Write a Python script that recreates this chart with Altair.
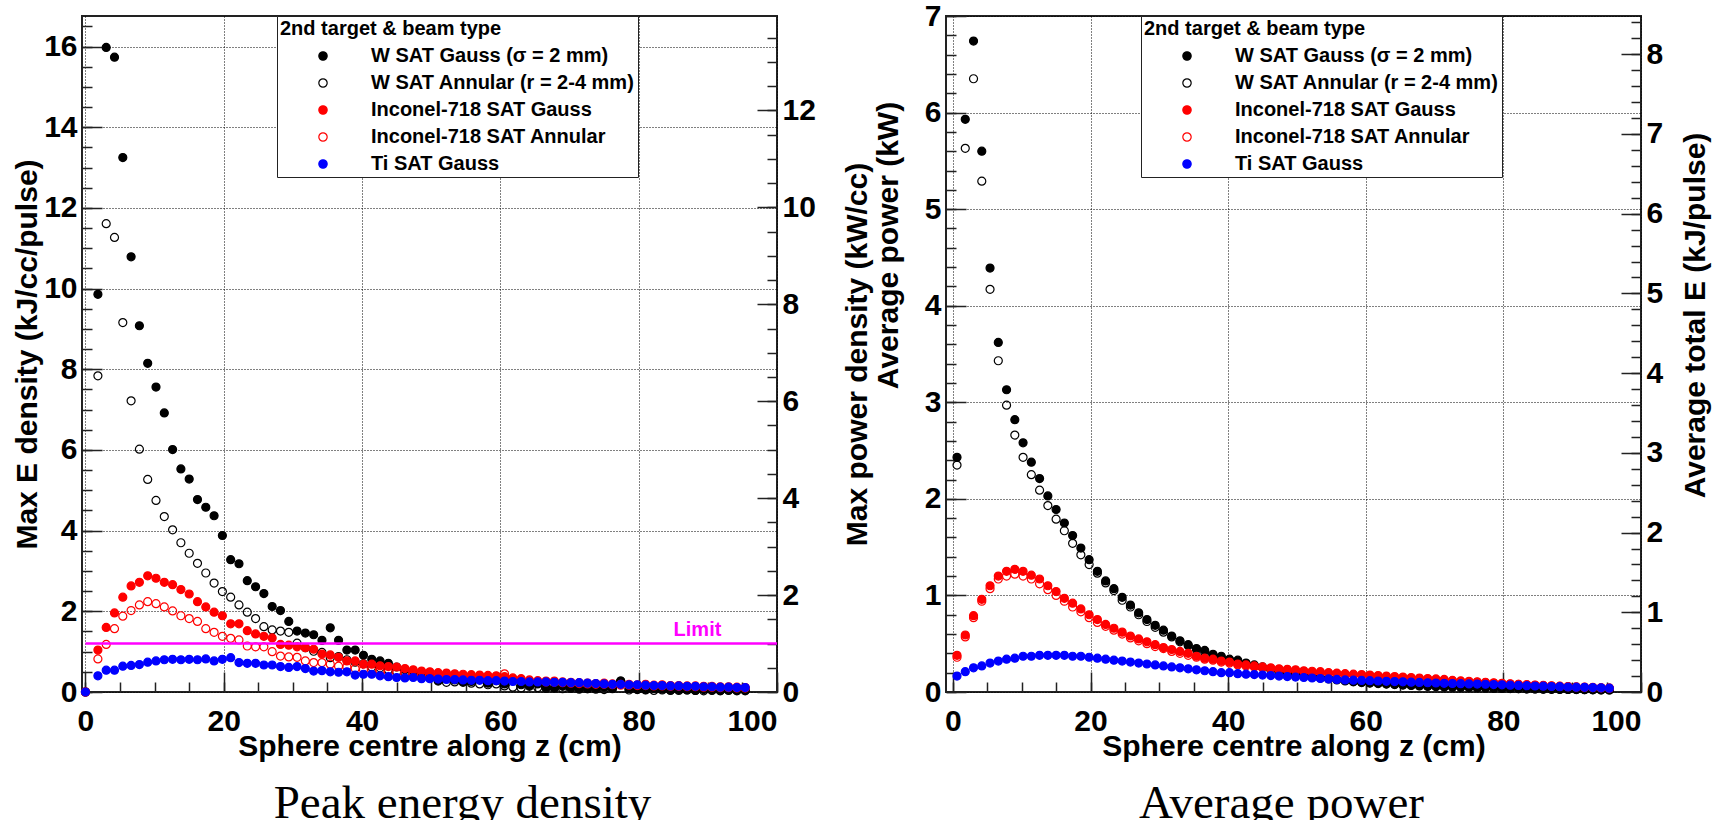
import altair as alt
import pandas as pd

# Series names (legend order = drawing order, Ti drawn last / on top)
SERIES = [
    "W SAT Gauss (σ = 2 mm)",
    "W SAT Annular (r = 2-4 mm)",
    "Inconel-718 SAT Gauss",
    "Inconel-718 SAT Annular",
    "Ti SAT Gauss",
]
STROKES = ["#000000", "#000000", "#ff0000", "#ff0000", "#0000ff"]
FILLS = ["#000000", "transparent", "#ff0000", "transparent", "#0000ff"]

# Sphere centre positions along z (cm)
Z_PEAK = [0.0, 1.8, 3.0, 4.2, 5.4, 6.6, 7.8, 9.0, 10.2, 11.4,
          12.6, 13.8, 15.0, 16.2, 17.4, 18.6, 19.8, 21.0, 22.2, 23.4,
          24.6, 25.8, 27.0, 28.2, 29.4, 30.6, 31.8, 33.0, 34.2, 35.4,
          36.6, 37.8, 39.0, 40.2, 41.4, 42.6, 43.8, 45.0, 46.2, 47.4,
          48.6, 49.8, 51.0, 52.2, 53.4, 54.6, 55.8, 57.0, 58.2, 59.4,
          60.6, 61.8, 63.0, 64.2, 65.4, 66.6, 67.8, 69.0, 70.2, 71.4,
          72.6, 73.8, 75.0, 76.2, 77.4, 78.6, 79.8, 81.0, 82.2, 83.4,
          84.6, 85.8, 87.0, 88.2, 89.4, 90.6, 91.8, 93.0, 94.2, 95.4]
Z_AVG = [0.6, 1.8, 3.0, 4.2, 5.4, 6.6, 7.8, 9.0, 10.2, 11.4,
         12.6, 13.8, 15.0, 16.2, 17.4, 18.6, 19.8, 21.0, 22.2, 23.4,
         24.6, 25.8, 27.0, 28.2, 29.4, 30.6, 31.8, 33.0, 34.2, 35.4,
         36.6, 37.8, 39.0, 40.2, 41.4, 42.6, 43.8, 45.0, 46.2, 47.4,
         48.6, 49.8, 51.0, 52.2, 53.4, 54.6, 55.8, 57.0, 58.2, 59.4,
         60.6, 61.8, 63.0, 64.2, 65.4, 66.6, 67.8, 69.0, 70.2, 71.4,
         72.6, 73.8, 75.0, 76.2, 77.4, 78.6, 79.8, 81.0, 82.2, 83.4,
         84.6, 85.8, 87.0, 88.2, 89.4, 90.6, 91.8, 93.0, 94.2, 95.4]

# Peak energy density (kJ/cc/pulse)
PEAK_W_GAUSS = [0.0,
    9.86, 15.98, 15.74, 13.25, 10.79, 9.08, 8.15, 7.56, 6.92, 6.01,
    5.53, 5.28, 4.77, 4.58, 4.37, 3.88, 3.28, 3.18, 2.76, 2.61,
    2.44, 2.12, 2.02, 1.75, 1.51, 1.46, 1.42, 1.28, 1.59, 1.28,
    1.04, 1.04, 0.91, 0.81, 0.77, 0.71, 0.62, 0.55, 0.50, 0.46,
    0.40, 0.27, 0.36, 0.30, 0.24, 0.26, 0.31, 0.22, 0.28, 0.20,
    0.30, 0.18, 0.16, 0.20, 0.12, 0.10, 0.14, 0.11, 0.09, 0.08,
    0.10, 0.12, 0.09, 0.27, 0.08, 0.07, 0.06, 0.09, 0.07, 0.05,
    0.06, 0.05, 0.04, 0.06, 0.05, 0.04, 0.05, 0.04, 0.04]
PEAK_W_ANNULAR = [0.0,
    7.84, 11.61, 11.27, 9.16, 7.22, 6.02, 5.27, 4.75, 4.35, 4.02,
    3.70, 3.44, 3.19, 2.95, 2.70, 2.49, 2.35, 2.16, 1.98, 1.82,
    1.62, 1.54, 1.51, 1.48, 1.21, 1.10, 1.01, 0.98, 0.85, 0.88,
    0.80, 0.74, 0.70, 0.62, 0.60, 0.55, 0.50, 0.47, 0.40, 0.38,
    0.36, 0.33, 0.24, 0.25, 0.27, 0.22, 0.20, 0.18, 0.20, 0.15,
    0.12, 0.10, 0.14, 0.11, 0.09, 0.10, 0.08, 0.09, 0.07, 0.08,
    0.07, 0.06, 0.08, 0.27, 0.05, 0.06, 0.05, 0.04, 0.05, 0.04,
    0.04, 0.05, 0.04, 0.03, 0.04, 0.03, 0.04, 0.03, 0.03]
PEAK_INC_GAUSS = [0.0,
    1.04, 1.60, 1.96, 2.35, 2.63, 2.72, 2.88, 2.82, 2.72, 2.66,
    2.54, 2.43, 2.24, 2.11, 1.98, 1.89, 1.69, 1.69, 1.52, 1.44,
    1.38, 1.34, 1.18, 1.16, 1.12, 1.10, 1.06, 0.94, 0.92, 0.86,
    0.77, 0.77, 0.69, 0.69, 0.65, 0.63, 0.62, 0.58, 0.55, 0.52,
    0.50, 0.48, 0.47, 0.45, 0.44, 0.43, 0.42, 0.41, 0.40, 0.38,
    0.35, 0.33, 0.30, 0.28, 0.27, 0.27, 0.25, 0.24, 0.23, 0.22,
    0.21, 0.22, 0.20, 0.19, 0.19, 0.18, 0.19, 0.17, 0.18, 0.16,
    0.16, 0.15, 0.15, 0.14, 0.14, 0.13, 0.13, 0.12, 0.11]
PEAK_INC_ANNULAR = [0.0,
    0.82, 1.18, 1.57, 1.88, 2.02, 2.16, 2.24, 2.19, 2.11, 2.01,
    1.89, 1.82, 1.75, 1.57, 1.48, 1.38, 1.33, 1.29, 1.14, 1.12,
    1.12, 1.00, 0.89, 0.87, 0.86, 0.77, 0.73, 0.73, 0.69, 0.64,
    0.62, 0.58, 0.56, 0.54, 0.52, 0.50, 0.48, 0.46, 0.44, 0.43,
    0.42, 0.40, 0.38, 0.37, 0.36, 0.35, 0.34, 0.36, 0.38, 0.45,
    0.31, 0.29, 0.27, 0.26, 0.25, 0.24, 0.23, 0.22, 0.21, 0.20,
    0.19, 0.19, 0.18, 0.17, 0.17, 0.16, 0.16, 0.15, 0.15, 0.14,
    0.14, 0.13, 0.13, 0.12, 0.12, 0.11, 0.11, 0.10, 0.10]
PEAK_TI_GAUSS = [0.0,
    0.40, 0.54, 0.54, 0.64, 0.66, 0.68, 0.74, 0.77, 0.80, 0.81,
    0.80, 0.81, 0.80, 0.82, 0.77, 0.81, 0.85, 0.73, 0.71, 0.71,
    0.67, 0.67, 0.63, 0.61, 0.63, 0.58, 0.52, 0.53, 0.50, 0.49,
    0.50, 0.42, 0.44, 0.44, 0.40, 0.38, 0.36, 0.35, 0.36, 0.33,
    0.33, 0.32, 0.31, 0.31, 0.30, 0.29, 0.29, 0.28, 0.28, 0.27,
    0.26, 0.26, 0.25, 0.25, 0.25, 0.24, 0.24, 0.23, 0.23, 0.22,
    0.21, 0.20, 0.19, 0.19, 0.18, 0.18, 0.17, 0.16, 0.16, 0.15,
    0.15, 0.14, 0.14, 0.13, 0.13, 0.12, 0.12, 0.11, 0.11]

# Average power (kW)
AVG_W_GAUSS = [
    2.43, 5.93, 6.74, 5.60, 4.39, 3.62, 3.13, 2.82, 2.58, 2.38,
    2.21, 2.03, 1.89, 1.75, 1.62, 1.49, 1.37, 1.25, 1.15, 1.07,
    0.98, 0.90, 0.82, 0.75, 0.69, 0.64, 0.58, 0.53, 0.49, 0.45,
    0.43, 0.39, 0.37, 0.34, 0.33, 0.30, 0.28, 0.26, 0.24, 0.22,
    0.20, 0.19, 0.17, 0.16, 0.15, 0.14, 0.13, 0.12, 0.11, 0.10,
    0.095, 0.09, 0.085, 0.08, 0.075, 0.07, 0.065, 0.06, 0.058, 0.055,
    0.052, 0.05, 0.048, 0.045, 0.043, 0.04, 0.038, 0.036, 0.035, 0.033,
    0.032, 0.03, 0.029, 0.028, 0.027, 0.026, 0.025, 0.024, 0.023, 0.022]
AVG_W_ANNULAR = [
    2.35, 5.63, 6.35, 5.29, 4.17, 3.43, 2.97, 2.66, 2.43, 2.25,
    2.09, 1.93, 1.79, 1.67, 1.54, 1.42, 1.32, 1.23, 1.13, 1.05,
    0.95, 0.88, 0.80, 0.73, 0.67, 0.62, 0.57, 0.52, 0.48, 0.44,
    0.41, 0.38, 0.36, 0.33, 0.31, 0.29, 0.27, 0.25, 0.23, 0.21,
    0.195, 0.18, 0.165, 0.155, 0.145, 0.135, 0.125, 0.115, 0.105, 0.098,
    0.092, 0.087, 0.082, 0.077, 0.072, 0.068, 0.063, 0.059, 0.056, 0.053,
    0.05, 0.048, 0.046, 0.044, 0.042, 0.039, 0.037, 0.035, 0.034, 0.032,
    0.031, 0.029, 0.028, 0.027, 0.026, 0.025, 0.024, 0.023, 0.022, 0.021]
AVG_INC_GAUSS = [
    0.38, 0.59, 0.79, 0.96, 1.10, 1.20, 1.25, 1.27, 1.25, 1.21,
    1.17, 1.10, 1.04, 0.97, 0.92, 0.86, 0.80, 0.75, 0.70, 0.66,
    0.62, 0.58, 0.55, 0.52, 0.49, 0.46, 0.44, 0.42, 0.40, 0.37,
    0.35, 0.34, 0.32, 0.31, 0.29, 0.28, 0.27, 0.26, 0.25, 0.24,
    0.235, 0.23, 0.22, 0.215, 0.21, 0.20, 0.195, 0.19, 0.185, 0.18,
    0.175, 0.17, 0.165, 0.16, 0.155, 0.15, 0.145, 0.14, 0.135, 0.13,
    0.12, 0.115, 0.11, 0.105, 0.10, 0.095, 0.09, 0.085, 0.08, 0.076,
    0.072, 0.068, 0.064, 0.06, 0.056, 0.053, 0.05, 0.047, 0.044, 0.041]
AVG_INC_ANNULAR = [
    0.36, 0.57, 0.77, 0.94, 1.07, 1.17, 1.20, 1.22, 1.20, 1.17,
    1.12, 1.06, 1.00, 0.94, 0.88, 0.83, 0.77, 0.72, 0.68, 0.64,
    0.60, 0.56, 0.53, 0.50, 0.47, 0.45, 0.42, 0.40, 0.38, 0.36,
    0.34, 0.33, 0.31, 0.30, 0.28, 0.27, 0.26, 0.25, 0.24, 0.23,
    0.225, 0.22, 0.21, 0.205, 0.20, 0.195, 0.19, 0.18, 0.175, 0.17,
    0.165, 0.16, 0.155, 0.15, 0.145, 0.14, 0.135, 0.13, 0.125, 0.12,
    0.115, 0.11, 0.105, 0.10, 0.095, 0.09, 0.086, 0.082, 0.078, 0.074,
    0.07, 0.066, 0.062, 0.058, 0.055, 0.052, 0.049, 0.046, 0.043, 0.04]
AVG_TI_GAUSS = [
    0.165, 0.21, 0.25, 0.27, 0.30, 0.32, 0.34, 0.35, 0.37, 0.37,
    0.38, 0.38, 0.38, 0.38, 0.37, 0.37, 0.36, 0.35, 0.34, 0.33,
    0.32, 0.31, 0.30, 0.29, 0.28, 0.27, 0.26, 0.25, 0.24, 0.23,
    0.22, 0.21, 0.20, 0.20, 0.19, 0.185, 0.18, 0.175, 0.17, 0.165,
    0.16, 0.155, 0.15, 0.145, 0.14, 0.135, 0.13, 0.125, 0.122, 0.12,
    0.117, 0.114, 0.111, 0.108, 0.105, 0.102, 0.099, 0.096, 0.093, 0.09,
    0.088, 0.086, 0.084, 0.082, 0.08, 0.077, 0.074, 0.071, 0.068, 0.065,
    0.062, 0.06, 0.057, 0.055, 0.052, 0.05, 0.048, 0.046, 0.043, 0.04]

LIMIT = 1.2          # kJ/cc/pulse
LIMIT_LABEL_Z = 88.5

FONT = "Liberation Sans"
W, H = 695, 676


def long_frame(z, columns):
    rows = []
    for name, vals in zip(SERIES, columns):
        for zi, vi in zip(z, vals):
            rows.append({"z": zi, "v": vi, "series": name})
    return pd.DataFrame(rows)


def panel(df, xdom, ydom, yvals, yminor, y2dom, y2vals, y2minor,
          ytitle, y2title, ytitle_pad, y2title_pad, caption, caption_dx,
          ytitle_y=None, y2title_y=None, limit=None):
    xs = alt.Scale(domain=xdom, nice=False, zero=False)
    ys = alt.Scale(domain=ydom, nice=False, zero=False)
    ys2 = alt.Scale(domain=y2dom, nice=False, zero=False)
    xvals = [0, 20, 40, 60, 80, 100]
    xminor = list(range(0, 101, 5))

    leg = alt.Legend(
        title="2nd target & beam type", orient="none", legendX=195, legendY=0,
        strokeColor="#222", fillColor="white", padding=3,
        titleFont=FONT, titleFontSize=20, titleFontWeight="bold", titleColor="black",
        titlePadding=7, titleLimit=400,
        labelFont=FONT, labelFontSize=20, labelFontWeight="bold", labelColor="black",
        labelLimit=400, symbolType="circle", symbolSize=70, symbolStrokeWidth=1.2,
        symbolOffset=33, labelOffset=38, rowPadding=7,
    )

    yaxis_kw = dict(values=yvals, title=ytitle, grid=True, gridDash=[1, 2],
                    gridColor="#000", gridWidth=1, ticks=False, tickSize=0,
                    domain=False, labelPadding=5, titlePadding=ytitle_pad, format="d")
    if ytitle_y is not None:
        yaxis_kw["titleY"] = ytitle_y

    base = alt.Chart(df)
    pts = base.mark_circle(size=64, opacity=1, strokeWidth=1.2).encode(
        x=alt.X("z:Q", scale=xs, axis=alt.Axis(
            values=xvals, title="Sphere centre along z (cm)", grid=True,
            gridDash=[1, 2], gridColor="#000", gridWidth=1, ticks=False, tickSize=0,
            domain=False, labelPadding=14, titlePadding=-5, format="d")),
        y=alt.Y("v:Q", scale=ys, axis=alt.Axis(**yaxis_kw)),
        stroke=alt.Stroke("series:N", scale=alt.Scale(domain=SERIES, range=STROKES), legend=leg),
        fill=alt.Fill("series:N", scale=alt.Scale(domain=SERIES, range=FILLS), legend=leg),
    )

    def ticks(size, xv, yv, scale_y):
        return base.mark_point(opacity=0, clip=True).encode(
            x=alt.X("z:Q", scale=xs, axis=alt.Axis(
                orient="top", offset=-H, values=xv, tickSize=size, labels=False,
                domain=False, grid=False, title=None, tickColor="#222", tickWidth=1.5)),
            y=alt.Y("v:Q", scale=scale_y, axis=alt.Axis(
                orient="right" if scale_y is ys else "left", offset=-W, values=yv,
                tickSize=size, labels=False, domain=False, grid=False, title=None,
                tickColor="#222", tickWidth=1.5)),
        )

    y2axis_kw = dict(orient="right", values=y2vals, title=y2title, ticks=False,
                     tickSize=0, domain=False, grid=False, labelPadding=5,
                     titlePadding=y2title_pad, titleAngle=270, titleBaseline="top",
                     format="d")
    if y2title_y is not None:
        y2axis_kw["titleY"] = y2title_y
    right_axis = base.mark_point(opacity=0, clip=True).encode(
        x=alt.X("z:Q", scale=xs, axis=None),
        y=alt.Y("v:Q", scale=ys2, axis=alt.Axis(**y2axis_kw)),
    )

    layers = [pts,
              ticks(20, xvals, yvals, ys), ticks(10, xminor, yminor, ys),
              right_axis,
              ticks(20, [], y2vals, ys2), ticks(10, [], y2minor, ys2)]

    if limit is not None:
        lim = pd.DataFrame({"z0": [0], "z1": [100], "v": [limit],
                            "zl": [LIMIT_LABEL_Z], "label": ["Limit"]})
        rule = alt.Chart(lim).mark_rule(color="#ff00ff", strokeWidth=2.5).encode(
            x=alt.X("z0:Q", scale=xs, axis=None), x2="z1:Q",
            y=alt.Y("v:Q", scale=ys, axis=None))
        txt = alt.Chart(lim).mark_text(
            color="#ff00ff", font=FONT, fontSize=20, fontWeight="bold",
            baseline="bottom", align="center", dy=-4).encode(
            x=alt.X("zl:Q", scale=xs, axis=None),
            y=alt.Y("v:Q", scale=ys, axis=None), text="label:N")
        layers = [layers[0], rule, txt] + layers[1:]

    return alt.layer(*layers).resolve_scale(y="independent").resolve_axis(
        x="independent", y="independent").properties(
        width=W, height=H,
        title=alt.TitleParams(caption, orient="bottom", anchor="middle", frame="group",
                              font="Liberation Serif", fontSize=47, fontWeight="normal",
                              color="black", offset=20, dx=caption_dx))


peak_df = long_frame(Z_PEAK, [PEAK_W_GAUSS, PEAK_W_ANNULAR, PEAK_INC_GAUSS,
                              PEAK_INC_ANNULAR, PEAK_TI_GAUSS])
avg_df = long_frame(Z_AVG, [AVG_W_GAUSS, AVG_W_ANNULAR, AVG_INC_GAUSS,
                            AVG_INC_ANNULAR, AVG_TI_GAUSS])

left = panel(peak_df, [-0.5, 100], [0, 16.76], list(range(0, 17, 2)),
             [i * 0.5 for i in range(0, 34)],
             [0, 13.95], list(range(0, 13, 2)), [i * 0.5 for i in range(0, 28)],
             "Max E density (kJ/cc/pulse)", "Max power density (kW/cc)", 1, 27,
             "Peak energy density", 33, limit=LIMIT)
right = panel(avg_df, [-1, 100], [0, 7], list(range(0, 8)),
              [i * 0.2 for i in range(0, 36)],
              [0, 8.48], list(range(0, 9)), [i * 0.2 for i in range(0, 43)],
              "Average power (kW)", "Average total E (kJ/pulse)", 21, 18,
              "Average power", -12, ytitle_y=229, y2title_y=299)

chart = alt.hconcat(left, right, spacing=169, bounds="flush").resolve_scale(
    stroke="independent", fill="independent").resolve_legend(
    stroke="independent", fill="independent").properties(
    padding={"left": 11, "top": 0, "right": 0, "bottom": 0}).configure_view(
    stroke="#222", strokeWidth=2).configure_axis(
    labelFont=FONT, labelFontSize=30, labelFontWeight="bold", labelColor="black",
    titleFont=FONT, titleFontSize=30, titleFontWeight="bold", titleColor="black")

chart.save("out.html", embed_options={"renderer": "svg", "actions": False})
